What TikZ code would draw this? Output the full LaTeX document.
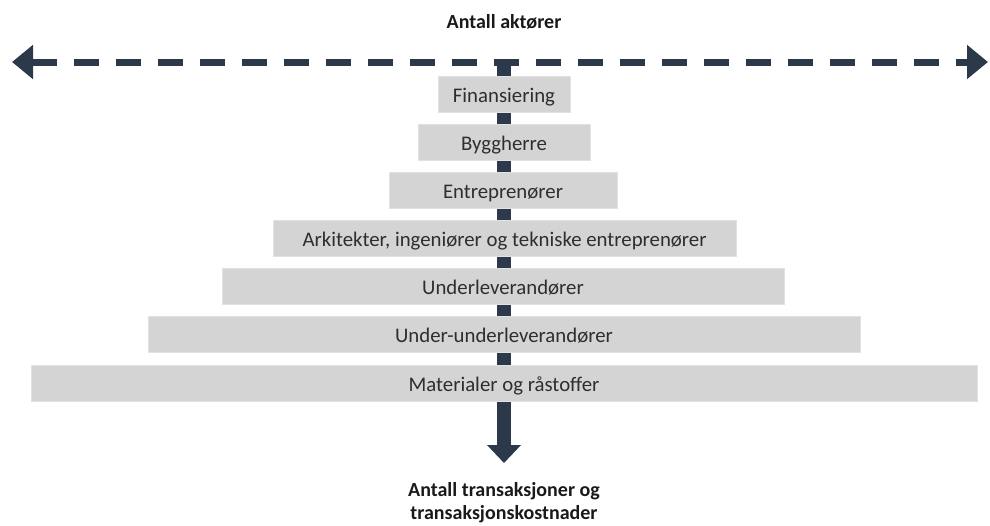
\documentclass[tikz,border=0pt]{standalone}
\usepackage{fontspec}
\setmainfont{Carlito}
\usetikzlibrary{arrows.meta}
\definecolor{axisNavy}{RGB}{44,57,75}
\definecolor{tierGray}{RGB}{212,212,212}
\definecolor{tierEdge}{RGB}{226,226,226}
\tikzset{
  actor axis/.style={line width=3.5pt, axisNavy, dash pattern=on 12.5pt off 8.5pt,
    {Triangle[length=10.5pt,width=16.5pt]}-{Triangle[length=10.5pt,width=16.5pt]}},
  cost axis/.style={line width=7pt, axisNavy, -{Triangle[length=9pt,width=16.5pt]}},
  tier box/.style={fill=tierGray, draw=tierEdge, line width=0.4pt, minimum height=18pt,
    inner sep=0pt, text height=8.5pt, text depth=0.5pt,
    font=\fontsize{10.4}{12}\selectfont, text=black!82},
  axis label/.style={font=\fontsize{10}{11.6}\selectfont\bfseries, align=center, text=black!90},
}

\begin{document}
\begin{tikzpicture}[x=0.5pt, y=-0.5pt]
  \useasboundingbox (0,0) rectangle (990,525);
  % ends of the two axes
  \coordinate (actors west) at (12,62);
  \coordinate (actors east) at (988,62);
  \coordinate (cost top) at (504,62);
  \coordinate (cost tip) at (504,463);
  \draw[cost axis] (cost top) -- (cost tip);
  % value chain tiers
  \node[tier box, minimum width=66pt]  (finance)   at (504,94.5)  {Finansiering};
  \node[tier box, minimum width=86pt]  (client)    at (504,142.5) {Byggherre};
  \node[tier box, minimum width=114pt] (contract)  at (503,190.5) {Entreprenører};
  \node[tier box, minimum width=231.5pt] (design)  at (504.5,238.5) {Arkitekter, ingeniører og tekniske entreprenører};
  \node[tier box, minimum width=281pt] (sub)       at (503,286) {Underleverandører};
  \node[tier box, minimum width=356pt] (subsub)    at (504,334.5) {Under-underleverandører};
  \node[tier box, minimum width=473pt] (material)  at (504,383)   {Materialer og råstoffer};
  \draw[actor axis] (actors west) -- (actors east);
  % axis labels
  \node[axis label] (actors label) at (504,22) {Antall aktører};
  \node[axis label] (cost label) at (504,503) {Antall transaksjoner og\\transaksjonskostnader};
\end{tikzpicture}
\end{document}
